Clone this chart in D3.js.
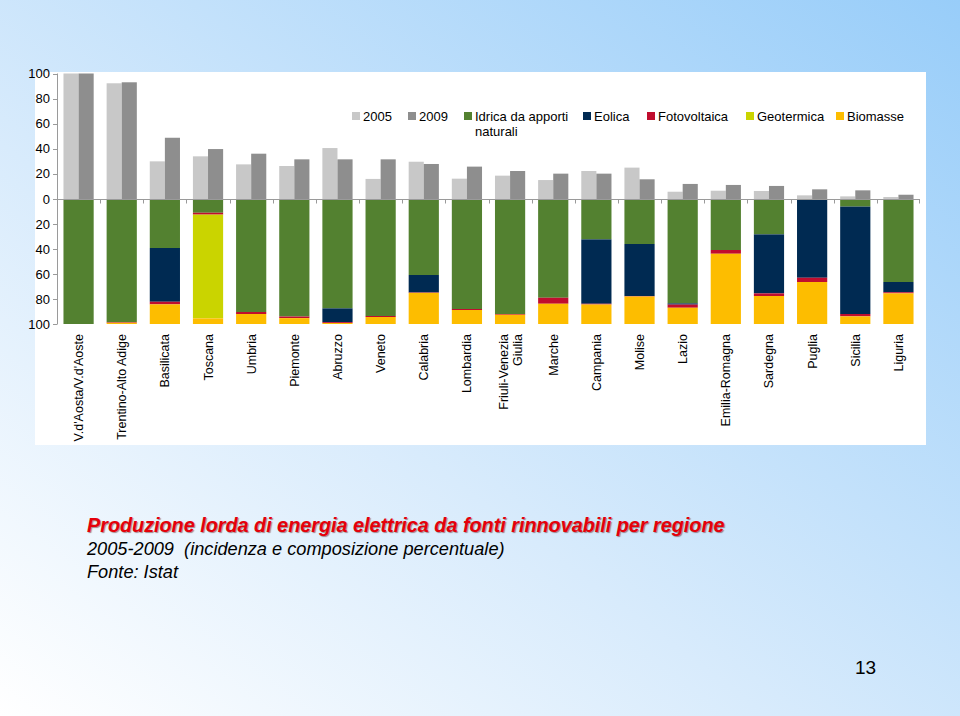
<!DOCTYPE html>
<html><head><meta charset="utf-8">
<script src="https://cdn.jsdelivr.net/npm/d3@7/dist/d3.min.js"></script>
<style>
html,body{margin:0;padding:0;}
svg{display:block;font-family:"Liberation Sans",Arial,sans-serif;}
</style></head>
<body>
<svg id="c" width="960" height="716"></svg>
<script>
const regions = ["V.d'Aosta/V.d'Aoste","Trentino-Alto Adige","Basilicata","Toscana","Umbria","Piemonte","Abruzzo","Veneto","Calabria","Lombardia","Friuli-Venezia Giulia","Marche","Campania","Molise","Lazio","Emilia-Romagna","Sardegna","Puglia","Sicilia","Liguria"];
const share2005 = [100,92.2,30,34,27.6,26.3,40.6,16,29.7,16.2,18.6,15.1,22.3,25,5.8,6.6,6.4,2.9,2.1,1.6];
const share2009 = [100,93,48.8,39.8,36.1,31.6,31.6,31.6,27.9,25.8,22.3,20.2,20.2,15.7,12,11.2,10.4,7.7,6.9,3.4];
const idrica      = [100,98.5,39.2,11,90.4,94,87.5,93.6,60.8,88,92,79,32.3,36,83.5,40.8,28.3,0,6.1,66.4];
const eolica      = [0,0,43,0,0,0,11,0,14,0,0,0,51.5,41.6,1,0,47.2,63,85.9,8.2];
const fotovoltaica= [0,0.5,2.1,1.5,1.6,1.3,0.7,0.8,0.3,0.8,0.6,4.8,0.6,0.4,2.5,3,2.1,3.4,1.9,0.9];
const geotermica  = [0,0,0,83,0,0,0,0,0,0,0,0,0,0,0,0,0,0,0,0];
const biomasse    = [0,1,15.7,4.5,8,4.7,0.8,5.6,24.9,11.2,7.4,16.2,15.6,22,13,56.2,22.4,33.6,6.1,24.5];
const topTicks = [0,20,40,60,80,100];
const bottomTicks = [20,40,60,80,100];
const sourceNames = ["Idrica da apporti naturali","Eolica","Fotovoltaica","Geotermica","Biomasse"];
const sourceValues = [idrica,eolica,fotovoltaica,geotermica,biomasse];
const sourceColors = ["#538130","#002a52","#c00d2e","#cad400","#fdbd00"];
const yearColors = ["#c8c8c8","#8e8e8e"];

const svg = d3.select("#c");
const defs = svg.append("defs");
const g = defs.append("linearGradient").attr("id","bg").attr("x1","0").attr("y1","1").attr("x2","1").attr("y2","0");
g.append("stop").attr("offset","0").attr("stop-color","#ffffff");
g.append("stop").attr("offset","0.4").attr("stop-color","#d8ebfc");
g.append("stop").attr("offset","1").attr("stop-color","#98cdf9");
svg.append("rect").attr("width",960).attr("height",716).attr("fill","url(#bg)");

// chart area
svg.append("rect").attr("x",35).attr("y",72).attr("width",891).attr("height",373).attr("fill","#fff");

const x = d3.scaleBand().domain(regions).range([57,920]).paddingInner(0.3).paddingOuter(0.15);
const yUp = d3.scaleLinear().domain([0,100]).range([199,73.5]);
const yDown = d3.scaleLinear().domain([0,100]).range([199,324]);
const bw = x.bandwidth();

// top bars
const tops = svg.append("g");
regions.forEach((r,i)=>{
  [share2005[i],share2009[i]].forEach((v,j)=>{
    tops.append("rect").attr("x",x(r)+j*bw/2).attr("width",bw/2)
      .attr("y",yUp(v)).attr("height",yUp(0)-yUp(v)).attr("fill",yearColors[j]);
  });
});

// stacked bottom
const rows = regions.map((r,i)=>{const o={region:r}; sourceNames.forEach((s,k)=>o[s]=sourceValues[k][i]); return o;});
const stack = d3.stack().keys(sourceNames)(rows);
const bot = svg.append("g");
stack.forEach((layer,k)=>{
  bot.selectAll(null).data(layer).enter().append("rect")
    .attr("x",d=>x(d.data.region)).attr("width",bw)
    .attr("y",d=>yDown(d[0])).attr("height",d=>Math.max(0,yDown(Math.min(100,d[1]))-yDown(d[0])))
    .attr("fill",sourceColors[k]);
});

// axes
const ax = svg.append("g").attr("stroke","#9a9a9a").attr("stroke-width",1);
ax.append("line").attr("x1",57.5).attr("x2",57.5).attr("y1",yUp(100)).attr("y2",yDown(100));
topTicks.forEach(t=>ax.append("line").attr("x1",53).attr("x2",57.5).attr("y1",Math.round(yUp(t))+0.5).attr("y2",Math.round(yUp(t))+0.5));
bottomTicks.forEach(t=>ax.append("line").attr("x1",53).attr("x2",57.5).attr("y1",Math.round(yDown(t))+0.5).attr("y2",Math.round(yDown(t))+0.5));
ax.append("line").attr("x1",57).attr("x2",920).attr("y1",199.5).attr("y2",199.5);
regions.forEach((r,i)=>{
  const xb = x(r) - x.step()*x.paddingInner()/2;
  if(i>0) ax.append("line").attr("x1",Math.round(xb)+0.5).attr("x2",Math.round(xb)+0.5).attr("y1",199.5).attr("y2",203.5);
});
ax.append("line").attr("x1",919.5).attr("x2",919.5).attr("y1",199.5).attr("y2",203.5);

const lab = svg.append("g").attr("font-size",13).attr("fill","#000").attr("text-anchor","end");
topTicks.forEach(t=>lab.append("text").attr("x",50).attr("y",yUp(t)+4.5).text(t));
bottomTicks.forEach(t=>lab.append("text").attr("x",50).attr("y",yDown(t)+4.5).text(t));

// category labels
const cl = svg.append("g").attr("font-size",12.5).attr("fill","#000");
regions.forEach(r=>{
  const cx = x(r)+bw/2;
  const lines = r==="Friuli-Venezia Giulia" ? ["Friuli-Venezia","Giulia"] : [r];
  lines.forEach((ln,li)=>{
    const off = lines.length>1 ? (li===0?-7:7) : 0;
    cl.append("text").attr("transform",`translate(${cx+off+4.5},334) rotate(-90)`)
      .attr("text-anchor","end").text(ln);
  });
});

// legend
const legend = [
  {t:"2005",c:yearColors[0],x:352},
  {t:"2009",c:yearColors[1],x:408},
  {t:"Idrica da apporti",t2:"naturali",c:sourceColors[0],x:464},
  {t:"Eolica",c:sourceColors[1],x:583},
  {t:"Fotovoltaica",c:sourceColors[2],x:647},
  {t:"Geotermica",c:sourceColors[3],x:746},
  {t:"Biomasse",c:sourceColors[4],x:836}
];
const lg = svg.append("g").attr("font-size",13).attr("fill","#000");
legend.forEach(d=>{
  lg.append("rect").attr("x",d.x).attr("y",112).attr("width",8).attr("height",8).attr("fill",d.c);
  lg.append("text").attr("x",d.x+11).attr("y",121).text(d.t);
  if(d.t2) lg.append("text").attr("x",d.x+11).attr("y",135.5).text(d.t2);
});

// titles
svg.append("text").attr("x",87).attr("y",532).attr("font-size",19.8).attr("font-weight","bold").attr("font-style","italic")
  .attr("fill","#e5000a").attr("style","text-shadow:1px 1px 1px rgba(80,0,0,0.45)")
  .text("Produzione lorda di energia elettrica da fonti rinnovabili per regione");
svg.append("text").attr("x",87).attr("y",555).attr("font-size",18.2).attr("font-style","italic").attr("fill","#000")
  .attr("xml:space","preserve").style("white-space","pre")
  .text("2005-2009  (incidenza e composizione percentuale)");
svg.append("text").attr("x",87).attr("y",578).attr("font-size",18.2).attr("font-style","italic").attr("fill","#000")
  .text("Fonte: Istat");
svg.append("text").attr("x",855).attr("y",674).attr("font-size",19).attr("fill","#000").text("13");
</script>
</body></html>
